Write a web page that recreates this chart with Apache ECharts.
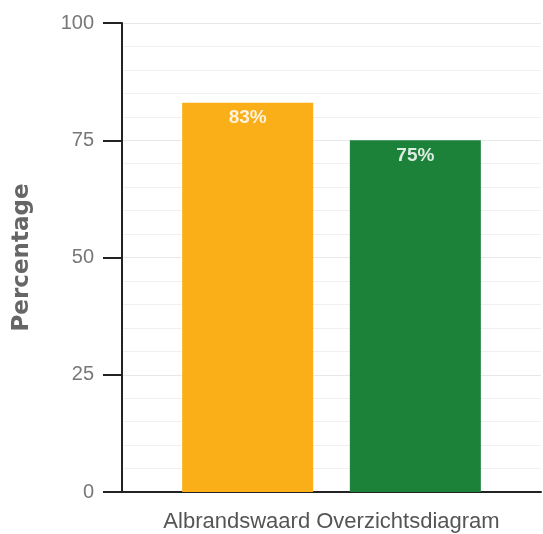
<!DOCTYPE html>
<html>
<head>
<meta charset="utf-8">
<script src="https://cdn.jsdelivr.net/npm/echarts@6/dist/echarts.min.js"></script>
<style>
html,body{margin:0;padding:0;background:#fff;}
#chart{width:543px;height:534px;}
</style>
</head>
<body>
<div id="chart"></div>
<script>
const categories = ['Albrandswaard Overzichtsdiagram'];
const seriesNames = ['Albrandswaard', 'Referentie'];
const seriesA = [83];
const seriesB = [75];
const barColors = ['#FAAE18', '#1C823A'];
const yTicks = [0, 25, 50, 75, 100];

const chart = echarts.init(document.getElementById('chart'));
const labelStyle = {
  show: true,
  position: 'insideTop',
  distance: 6,
  formatter: '{c}%',
  color: 'rgba(255,255,255,0.85)',
  fontFamily: 'Liberation Sans',
  fontWeight: 'bold',
  fontSize: 19
};
chart.setOption({
  animation: false,
  grid: { left: 122, right: 2, top: 23, bottom: 42, containLabel: false, outerBoundsMode: 'none' },
  xAxis: {
    type: 'category',
    data: categories,
    axisLine: { show: true, lineStyle: { color: '#222', width: 2 } },
    axisTick: { show: false },
    axisLabel: { margin: 19, color: '#555', fontFamily: 'Liberation Sans', fontSize: 22 },
    splitLine: { show: false }
  },
  yAxis: {
    type: 'value',
    min: yTicks[0],
    max: yTicks[yTicks.length - 1],
    interval: 25,
    name: 'Percentage',
    nameLocation: 'middle',
    nameGap: 88,
    nameTextStyle: { color: '#666', fontFamily: 'DejaVu Sans', fontWeight: 'bold', fontSize: 23 },
    axisLine: { show: true, lineStyle: { color: '#222', width: 2 } },
    axisTick: { show: true, length: 19, lineStyle: { color: '#222', width: 2 } },
    axisLabel: { margin: 28, color: '#777', fontFamily: 'Liberation Sans', fontSize: 20 },
    splitLine: { show: true, lineStyle: { color: '#e8e8e8' } },
    minorTick: { show: false, splitNumber: 5 },
    minorSplitLine: { show: true, lineStyle: { color: '#f0f0f0' } }
  },
  series: [
    { name: seriesNames[0], type: 'bar', data: seriesA, barWidth: 131, barGap: '28%',
      itemStyle: { color: barColors[0] }, label: labelStyle },
    { name: seriesNames[1], type: 'bar', data: seriesB, barWidth: 131, barGap: '28%',
      itemStyle: { color: barColors[1] }, label: labelStyle }
  ]
});
</script>
</body>
</html>
